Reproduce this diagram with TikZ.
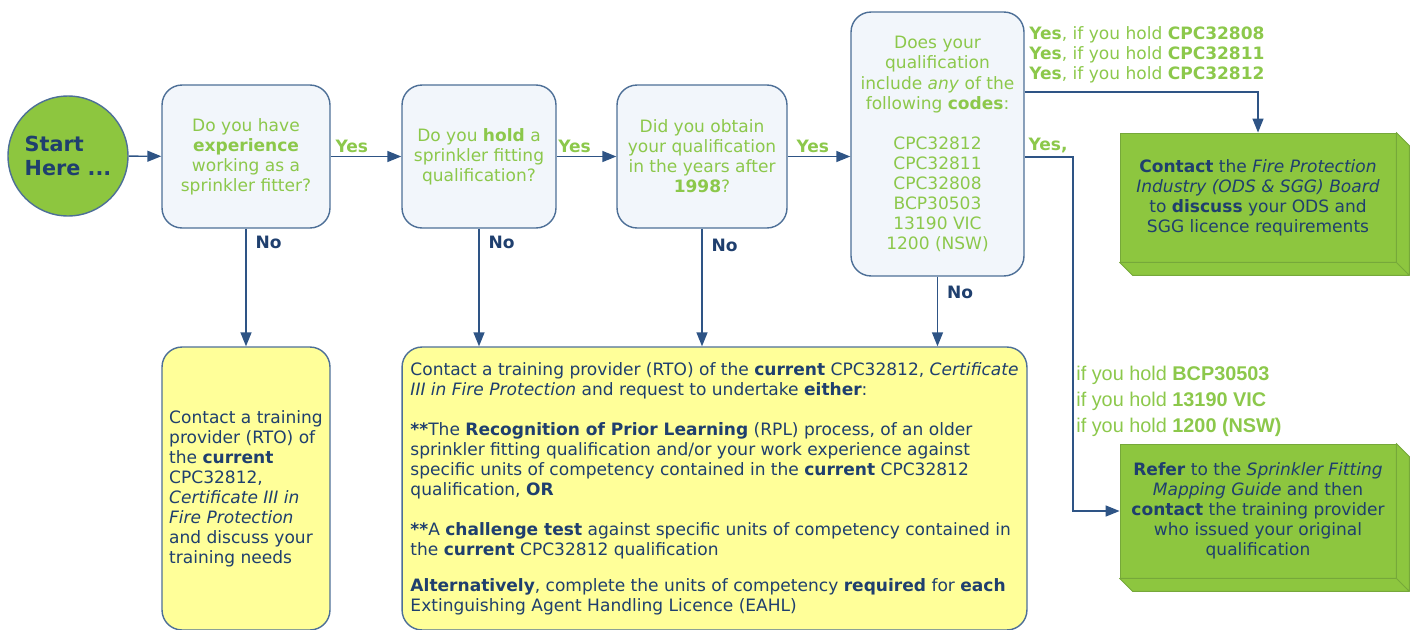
\documentclass[tikz,border=0pt]{standalone}
\usepackage{fontspec}
\setmainfont{DejaVu Sans}
\newfontfamily\arialfont{Liberation Sans}
\usepackage{tikz}
\usetikzlibrary{positioning,arrows.meta}
\definecolor{navytext}{HTML}{1F3F6E}
\definecolor{qgreen}{HTML}{8CC84B}
\definecolor{edgeblue}{HTML}{4D6F97}
\definecolor{qfill}{HTML}{F2F6FB}
\definecolor{boxgreen}{HTML}{8DC63F}
\definecolor{boxedge}{HTML}{76A83A}
\definecolor{notefill}{HTML}{FFFF99}
\definecolor{linkblue}{HTML}{2E5485}
\tikzset{
  flowarrow/.style={-{Triangle[length=2.8mm,width=2.2mm]}, line width=0.8pt, draw=linkblue, color=linkblue},
  startnode/.style={circle, draw=edgeblue, line width=0.8pt, fill=boxgreen, minimum size=2.4cm, align=left, text=navytext, font=\fontsize{11.8}{13.7}\selectfont\bfseries},
  qbox/.style={draw=edgeblue, line width=0.8pt, rounded corners=0.4cm, fill=qfill, minimum height=2.86cm, align=center, text=qgreen},
  actionbox/.style={draw=edgeblue, line width=0.8pt, rounded corners=0.4cm, fill=notefill, minimum height=5.66cm, align=left, text=navytext},
  refbox/.style={draw=boxedge, line width=0.5pt, fill=boxgreen, minimum width=5.52cm, align=center, text=navytext},
  depthface/.style={draw=boxedge, line width=0.5pt, fill=boxgreen, line join=round},
  yeslabel/.style={above, text=qgreen, font=\fontsize{9.7}{11.4}\selectfont\bfseries, inner sep=2pt},
  nolabel/.style={anchor=west, inner sep=0pt, xshift=0.18cm, text=navytext, font=\fontsize{9.7}{11.4}\selectfont\bfseries},
  codelabel/.style={anchor=west, align=left, inner sep=0pt, text=qgreen},
  holdlabel/.style={anchor=west, align=left, inner sep=0pt, text=qgreen, font=\arialfont\fontsize{11.3}{14.8}\selectfont}
}
\begin{document}
\begin{tikzpicture}[x=0.02cm, y=-0.02cm, every node/.style={font=\fontsize{9.7}{11.4}\selectfont}]
  \useasboundingbox (0,0) rectangle (1412,629);
  \clip (0,0) rectangle (1412,629);

  % questions
  \node[startnode] (start) at (68,156) {Start\\Here ...};
  \node[qbox, minimum width=3.36cm] (q1) at (246,156.5) {Do you have\\ \textbf{experience}\\ working as a\\ sprinkler fitter?};
  \node[qbox, minimum width=3.08cm] (q2) at (479,156.5) {Do you \textbf{hold} a\\ sprinkler fitting\\ qualification?};
  \node[qbox, minimum width=3.4cm] (q3) at (702,156.5) {Did you obtain\\ your qualification\\ in the years after\\ \textbf{1998}?};
  \node[qbox, minimum width=3.46cm, minimum height=5.28cm] (q4) at (937.5,144) {Does your\\ qualification\\ include \textit{any} of the\\ following \textbf{codes}:\\[11.4pt] CPC32812\\ CPC32811\\ CPC32808\\ BCP30503\\ 13190 VIC\\ 1200 (NSW)};

  % outcomes
  \node[actionbox, minimum width=3.36cm] (y1) at (246,488.5) {Contact a training\\ provider (RTO) of\\ the \textbf{current}\\ CPC32812,\\ \textit{Certificate III in}\\ \textit{Fire Protection}\\ and discuss your\\ training needs};
  \node[actionbox, minimum width=12.5cm] (y2) at (714.5,488.5) {Contact a training provider (RTO) of the \textbf{current} CPC32812, \textit{Certificate}\\
    \textit{III in Fire Protection} and request to undertake \textbf{either}:\\[11.4pt]
    \textbf{**}The \textbf{Recognition of Prior Learning} (RPL) process, of an older\\
    sprinkler fitting qualification and/or your work experience against\\
    specific units of competency contained in the \textbf{current} CPC32812\\
    qualification, \textbf{OR}\\[11.4pt]
    \textbf{**}A \textbf{challenge test} against specific units of competency contained in\\
    the \textbf{current} CPC32812 qualification\\[9pt]
    \textbf{Alternatively}, complete the units of competency \textbf{required} for \textbf{each}\\
    Extinguishing Agent Handling Licence (EAHL)};
  \node[refbox, minimum height=2.58cm] (g1) at (1258,197.5) {\textbf{Contact} the \textit{Fire Protection}\\ \textit{Industry (ODS \& SGG) Board}\\ to \textbf{discuss} your ODS and\\ SGG licence requirements};
  \node[refbox, minimum height=2.68cm] (g2) at (1258,511) {\textbf{Refer} to the \textit{Sprinkler Fitting}\\ \textit{Mapping Guide} and then\\ \textbf{contact} the training provider\\ who issued your original\\ qualification};

  % depth of the green boxes
  \foreach \g in {g1,g2}
    \filldraw[depthface] (\g.south west) -- ++(13,13) -- ([shift={(13,13)}]\g.south east) -- ([shift={(13,13)}]\g.north east) -- (\g.north east) -- (\g.south east) -- cycle
      (\g.south east) -- ++(13,13);

  % yes branches
  \draw[flowarrow] (start) -- (q1);
  \draw[flowarrow] (q1) -- node[yeslabel, pos=0.3] {Yes} (q2);
  \draw[flowarrow] (q2) -- node[yeslabel, pos=0.3] {Yes} (q3);
  \draw[flowarrow] (q3.east) -- node[yeslabel, pos=0.4] {Yes} (q3.east -| q4.west);

  % no branches
  \draw[flowarrow] (q1) -- node[nolabel, pos=0.12] {No} (y1);
  \draw[flowarrow] (q2.south) -- node[nolabel, pos=0.12] {No} (q2.south |- y2.north);
  \draw[flowarrow] (q3.south) -- node[nolabel, pos=0.14] {No} (q3.south |- y2.north);
  \draw[flowarrow] (q4.south) -- node[nolabel, pos=0.23] {No} (q4.south |- y2.north);

  % code branches
  \draw[flowarrow] (q4.east |- 0,92) -| (g1.north);
  \node[codelabel] (codesA) at (1029,55) {\textbf{Yes}, if you hold \textbf{CPC32808}\\ \textbf{Yes}, if you hold \textbf{CPC32811}\\ \textbf{Yes}, if you hold \textbf{CPC32812}};
  \coordinate (bend) at (1073,157);
  \draw[flowarrow] (q4.east |- bend) -- (bend) |- (g2.west);
  \node[yeslabel, anchor=south west] (yesB) at (q4.east |- bend) {Yes,};
  \node[holdlabel] (codesB) at (1076,401) {if you hold \textbf{BCP30503}\\ if you hold \textbf{13190 VIC}\\ if you hold \textbf{1200 (NSW)}};
\end{tikzpicture}
\end{document}
